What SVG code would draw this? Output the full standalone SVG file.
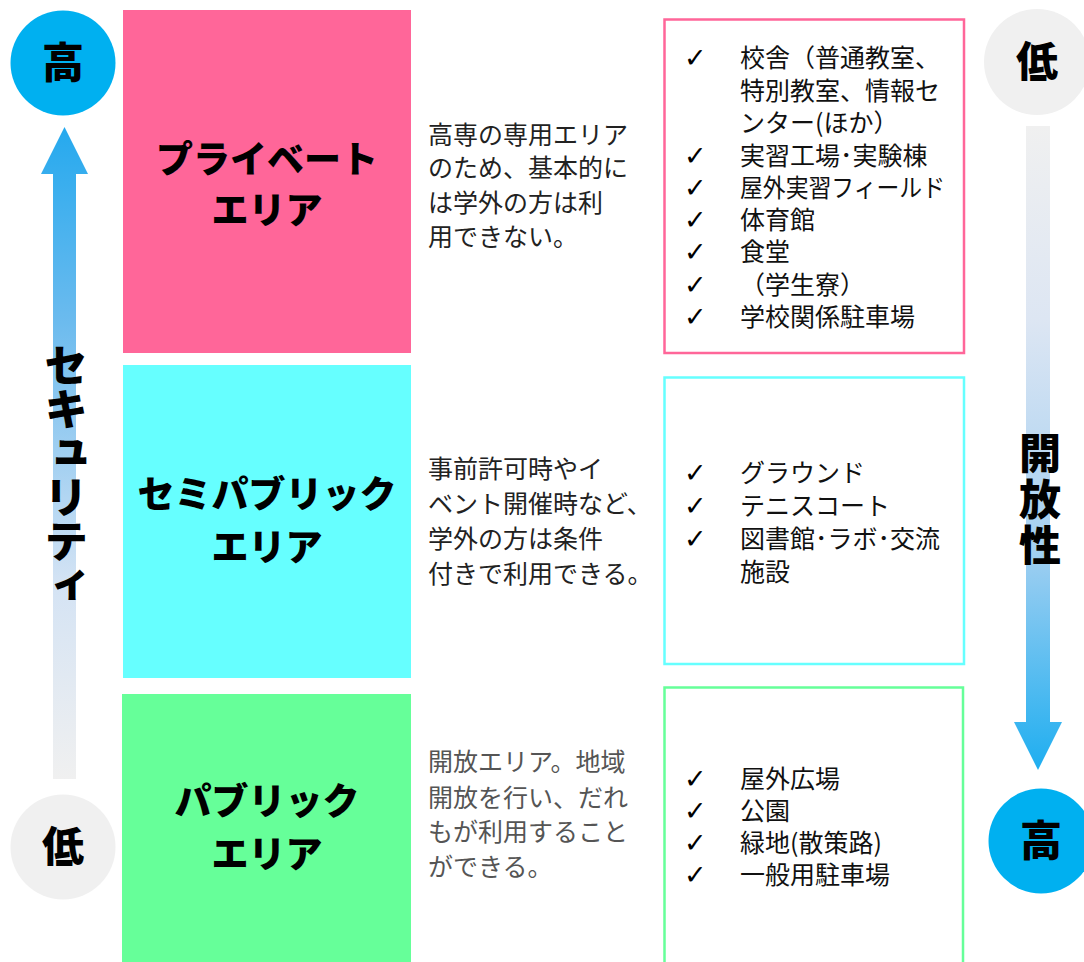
<svg xmlns="http://www.w3.org/2000/svg" width="1084" height="962" viewBox="0 0 1084 962">
<defs>
<linearGradient id="gUp" x1="0" y1="127" x2="0" y2="779" gradientUnits="userSpaceOnUse">
<stop offset="0" stop-color="#25A9EE"/>
<stop offset="0.3" stop-color="#6CBBEE"/>
<stop offset="0.7" stop-color="#D4E3F4"/>
<stop offset="1" stop-color="#F0F0F0"/>
</linearGradient>
<linearGradient id="gDown" x1="0" y1="126" x2="0" y2="770" gradientUnits="userSpaceOnUse">
<stop offset="0" stop-color="#F0F0F0"/>
<stop offset="0.3" stop-color="#DDE6F3"/>
<stop offset="0.65" stop-color="#A5D0F1"/>
<stop offset="1" stop-color="#1EAEF0"/>
</linearGradient>
</defs>
<style>
text{font-family:"Noto Sans CJK JP","Noto Sans CJK SC",sans-serif;}
.title{font-size:37px;font-weight:900;fill:#000;text-anchor:middle;}
.circ{font-size:42px;font-weight:900;fill:#000;text-anchor:middle;}
.vert{font-weight:900;fill:#000;writing-mode:vertical-rl;}
.desc{font-size:25px;fill:#222;}
.desc2{font-size:25px;fill:#555;}
.item{font-size:25px;fill:#111;}
.chk{font-family:"DejaVu Sans",sans-serif;font-size:27px;font-weight:bold;fill:#000;}
</style>
<rect width="1084" height="962" fill="#fff"/>

<g id="connectors">
<polygon points="64.5,127 88,174 76,174 76,779 53,779 53,174 41,174" fill="url(#gUp)"/>
<polygon points="1026,126 1050,126 1050,722 1062,722 1038,770 1014,722 1026,722" fill="url(#gDown)"/>
</g>

<g id="security-label">
<text class="vert" x="66" y="343" font-size="44">セキュリティ</text>
</g>

<g id="openness-label">
<text class="vert" x="1040" y="432" font-size="42" letter-spacing="4">開放性</text>
</g>

<g id="left-high">
<circle cx="63" cy="63" r="52.5" fill="#00B0F0"/>
<text class="circ" x="63" y="78">高</text>
</g>
<g id="left-low">
<circle cx="63" cy="847" r="52.5" fill="#F0F0F0"/>
<text class="circ" x="63" y="862">低</text>
</g>
<g id="right-low">
<circle cx="1037" cy="62" r="53" fill="#F0F0F0"/>
<text class="circ" x="1037" y="77">低</text>
</g>
<g id="right-high">
<circle cx="1041" cy="841" r="52.5" fill="#00B0F0"/>
<text class="circ" x="1041" y="856">高</text>
</g>

<g id="private-area">
<rect x="123" y="10" width="288" height="343" fill="#FF6699"/>
<text class="title" x="267" y="173">プライベート<tspan x="267" dy="51">エリア</tspan></text>
</g>
<g id="semipublic-area">
<rect x="123" y="365" width="288" height="313" fill="#66FFFF"/>
<text class="title" x="267" y="508">セミパブリック<tspan x="267" dy="53">エリア</tspan></text>
</g>
<g id="public-area">
<rect x="122" y="694" width="289" height="270" fill="#66FF99"/>
<text class="title" x="267" y="815">パブリック<tspan x="267" dy="53">エリア</tspan></text>
</g>

<g id="private-desc">
<text class="desc" x="428" y="144">高専の専用エリア<tspan x="428" dy="33">のため、基本的に</tspan><tspan x="428" dy="35">は学外の方は利</tspan><tspan x="428" dy="34">用できない。</tspan></text>
</g>
<g id="semipublic-desc">
<text class="desc" x="428" y="478">事前許可時やイ<tspan x="428" dy="35">ベント開催時など、</tspan><tspan x="428" dy="35">学外の方は条件</tspan><tspan x="428" dy="35">付きで利用できる。</tspan></text>
</g>
<g id="public-desc">
<text class="desc2" x="428" y="771">開放エリア。地域<tspan x="428" dy="36">開放を行い、だれ</tspan><tspan x="428" dy="34">もが利用すること</tspan><tspan x="428" dy="35">ができる。</tspan></text>
</g>

<g id="private-list">
<rect x="664.5" y="19.5" width="299.5" height="333.5" fill="none" stroke="#FF6699" stroke-width="2.5"/>
<text class="chk" x="684" y="67">✓<tspan x="684" y="165">✓</tspan><tspan x="684" y="197">✓</tspan><tspan x="684" y="229">✓</tspan><tspan x="684" y="261">✓</tspan><tspan x="684" y="294">✓</tspan><tspan x="684" y="326">✓</tspan></text>
<text class="item" x="740" y="67">校舎（普通教室、<tspan x="740" y="100">特別教室、情報セ</tspan><tspan x="740" y="132">ンター(ほか）</tspan><tspan x="740" y="165">実習工場･実験棟</tspan><tspan x="740" y="197" textLength="205" lengthAdjust="spacingAndGlyphs">屋外実習フィールド</tspan><tspan x="740" y="229">体育館</tspan><tspan x="740" y="261">食堂</tspan><tspan x="740" y="294">（学生寮）</tspan><tspan x="740" y="326">学校関係駐車場</tspan></text>
</g>
<g id="semipublic-list">
<rect x="664.5" y="377.5" width="299.5" height="286.5" fill="none" stroke="#66FFFF" stroke-width="2.5"/>
<text class="chk" x="684" y="482">✓<tspan x="684" y="515">✓</tspan><tspan x="684" y="548">✓</tspan></text>
<text class="item" x="740" y="482">グラウンド<tspan x="740" y="515">テニスコート</tspan><tspan x="740" y="548">図書館･ラボ･交流</tspan><tspan x="740" y="581">施設</tspan></text>
</g>
<g id="public-list">
<rect x="664.5" y="687.5" width="298.5" height="280" fill="none" stroke="#66FF99" stroke-width="2.5"/>
<text class="chk" x="684" y="788">✓<tspan x="684" y="820">✓</tspan><tspan x="684" y="852">✓</tspan><tspan x="684" y="884">✓</tspan></text>
<text class="item" x="740" y="788">屋外広場<tspan x="740" y="820">公園</tspan><tspan x="740" y="852">緑地(散策路)</tspan><tspan x="740" y="884">一般用駐車場</tspan></text>
</g>
</svg>
